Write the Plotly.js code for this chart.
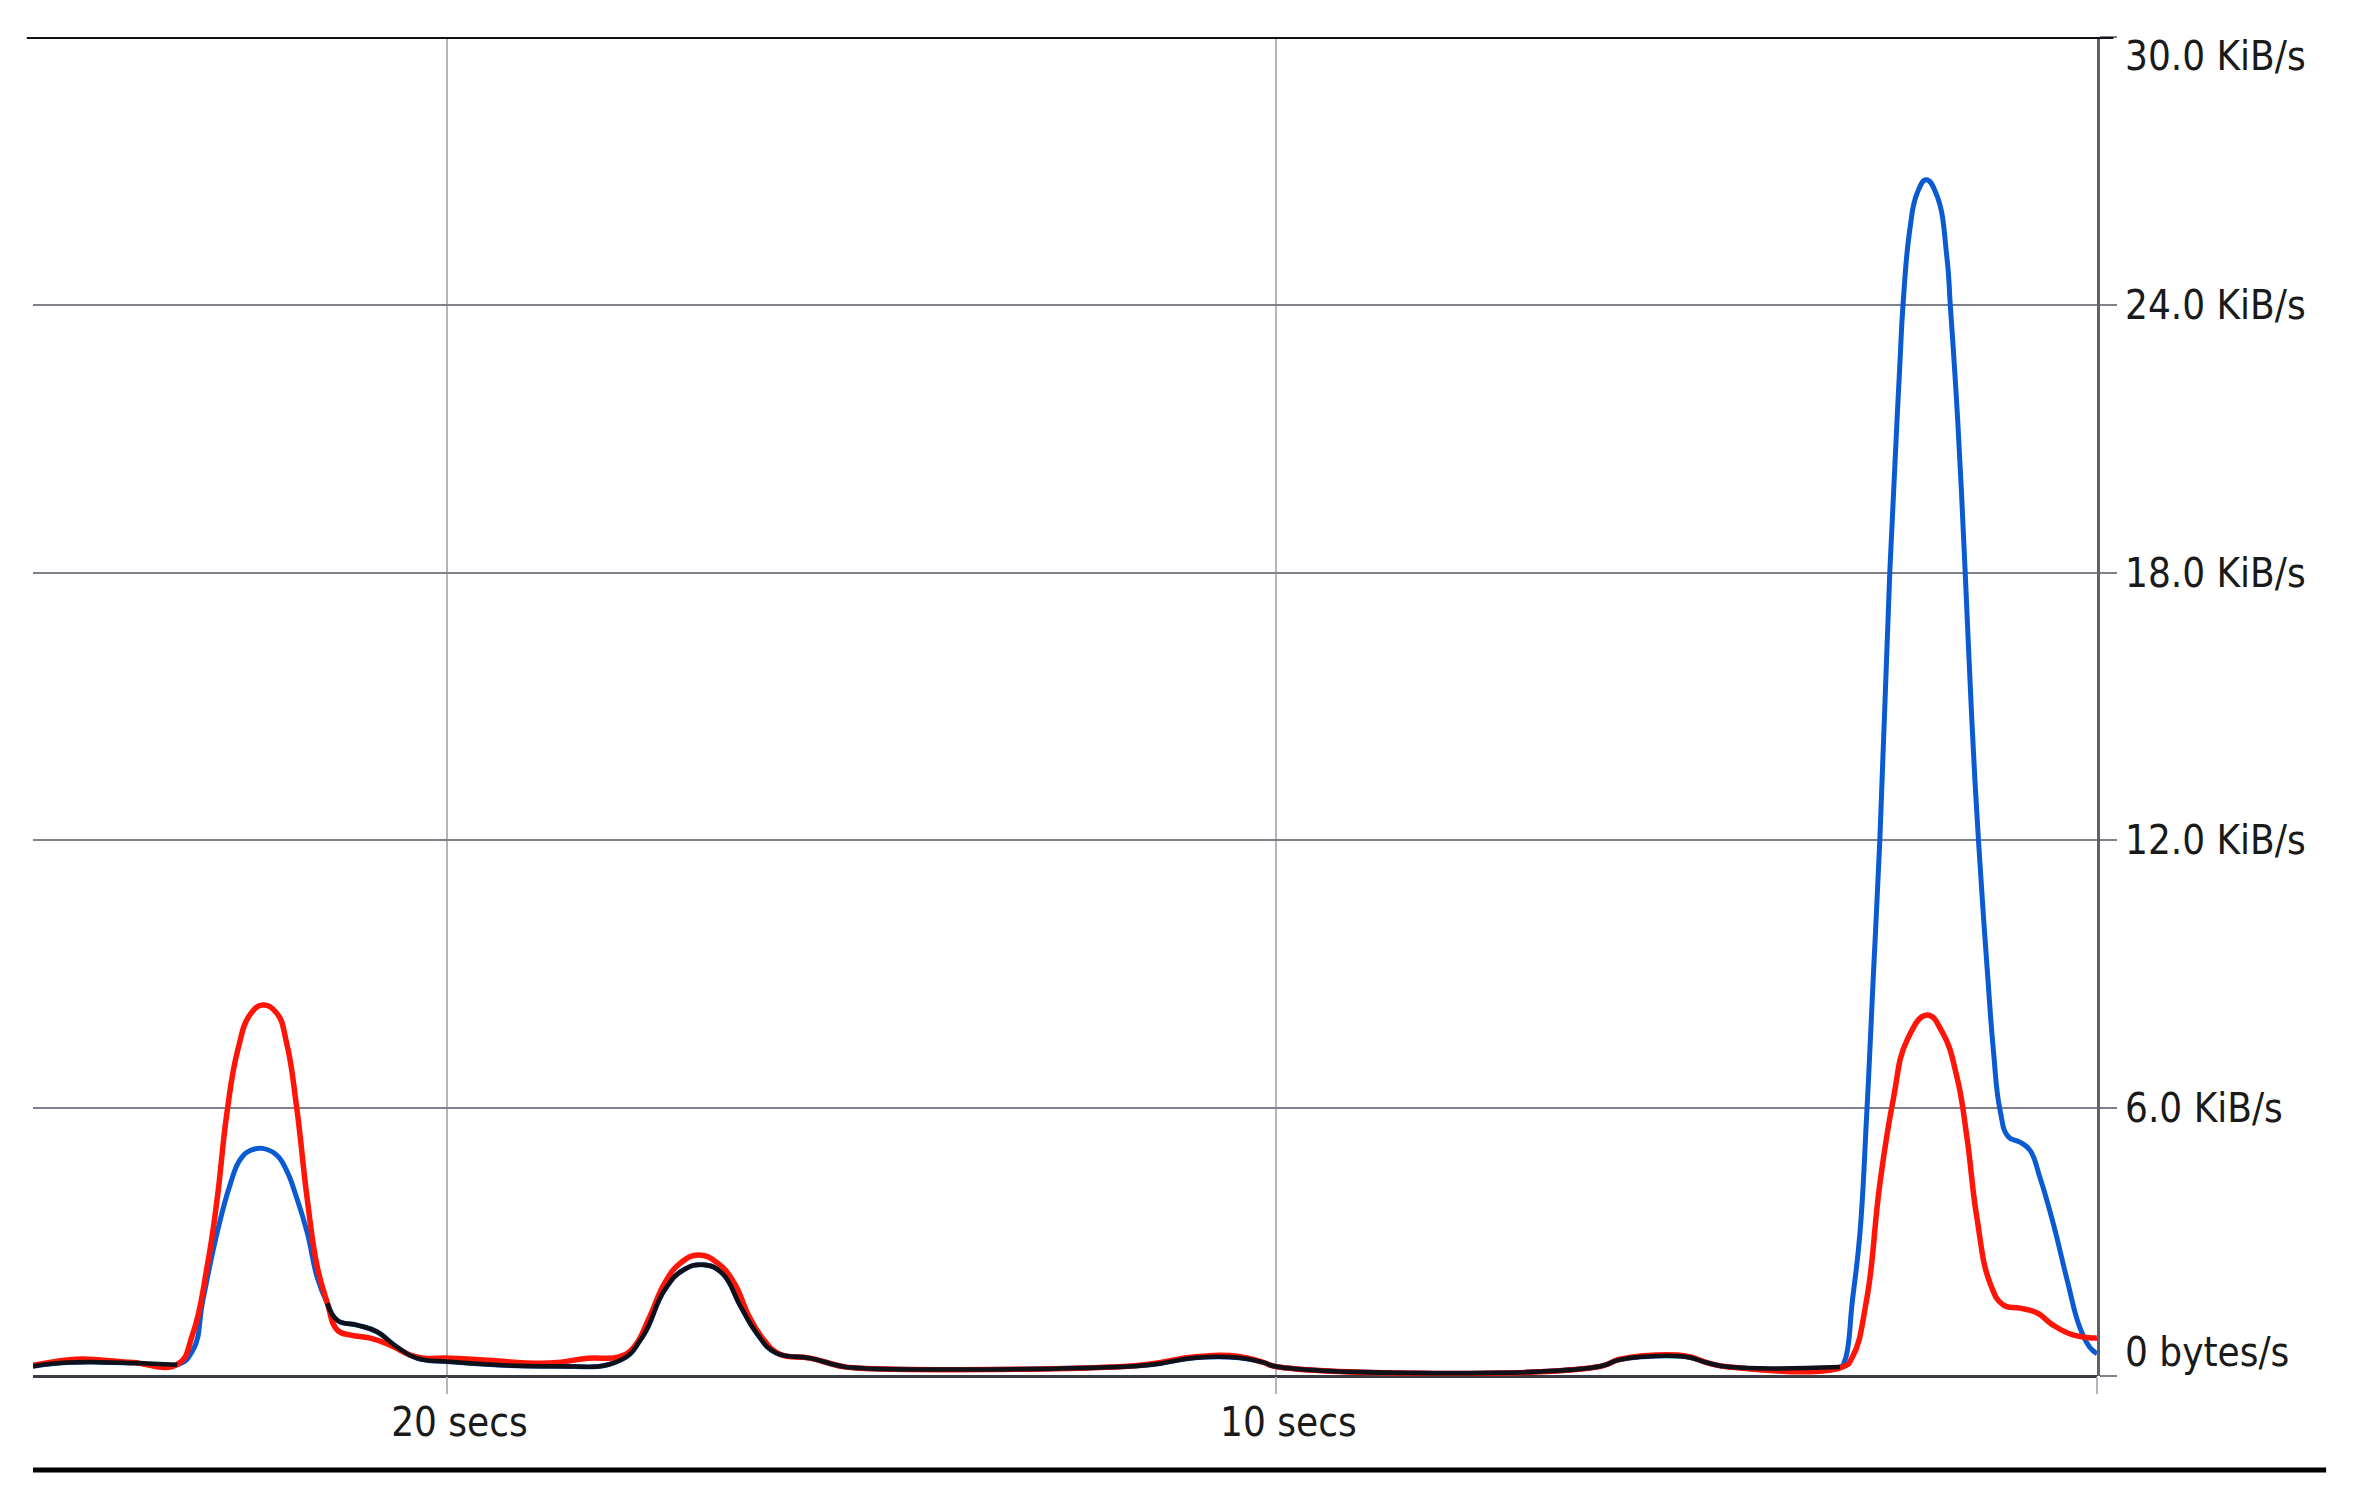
<!DOCTYPE html>
<html>
<head>
<meta charset="utf-8">
<script src="https://cdn.plot.ly/plotly-3.0.1.min.js"></script>
<style>
  html, body { margin: 0; padding: 0; background: #ffffff; }
  #chart { width: 2361px; height: 1509px; }
</style>
</head>
<body>
<div id="chart"></div>
<script>
// Time axis: seconds ago (25 s on the left, now on the right)
const xTickVals = [20, 10, 0.1];
const xTickText = ['20 secs', '10 secs', ''];

// Rate axis (KiB/s)
const yTickVals = [0, 6, 12, 18, 24, 30];
const yTickText = ['', '6.0 KiB/s', '12.0 KiB/s', '18.0 KiB/s', '24.0 KiB/s', ''];
const yTopLabel = '30.0 KiB/s';
const yBottomLabel = '0 bytes/s';

// Blue series
const blueTime = [25.0, 24.59, 24.19, 23.79, 23.26, 23.07, 22.95, 22.78, 22.62, 22.50, 22.38, 22.23, 22.06, 21.94, 21.82, 21.69, 21.57, 21.45, 21.33, 21.09, 20.85, 20.61, 20.37, 19.97, 18.76, 17.93, 17.65, 17.38, 17.15, 16.92, 16.69, 16.46, 16.27, 16.04, 15.63, 15.25, 15.07, 12.30, 11.52, 10.98, 10.45, 10.17, 9.97, 6.14, 5.87, 5.60, 5.06, 4.79, 4.53, 3.20, 3.14, 3.05, 2.96, 2.88, 2.84, 2.80, 2.72, 2.60, 2.48, 2.44, 2.36, 2.27, 2.16, 2.03, 1.91, 1.87, 1.78, 1.69, 1.61, 1.53, 1.42, 1.35, 1.27, 1.17, 1.03, 0.91, 0.79, 0.63, 0.46, 0.31, 0.19, 0.10];
const blueRate = [0.22, 0.30, 0.31, 0.29, 0.25, 0.58, 1.7, 3.2, 4.3, 4.85, 5.05, 5.1, 4.95, 4.6, 4.0, 3.2, 2.2, 1.63, 1.25, 1.14, 0.99, 0.65, 0.40, 0.32, 0.22, 0.34, 0.87, 1.93, 2.38, 2.49, 2.31, 1.55, 0.96, 0.52, 0.40, 0.22, 0.18, 0.18, 0.25, 0.41, 0.41, 0.31, 0.20, 0.20, 0.36, 0.43, 0.43, 0.29, 0.20, 0.20, 0.36, 1.7, 3.2, 5.8, 7.3, 8.9, 12.0, 18.0, 22.6, 24.0, 25.66, 26.5, 26.8, 26.44, 25.05, 24.0, 21.4, 18.0, 14.7, 12.0, 9.0, 7.3, 5.96, 5.36, 5.24, 5.06, 4.46, 3.43, 2.15, 1.1, 0.65, 0.5];

// Red series
const redTime = [25.0, 24.59, 24.39, 24.19, 23.79, 23.26, 23.07, 22.90, 22.78, 22.66, 22.53, 22.38, 22.23, 22.06, 21.94, 21.82, 21.69, 21.57, 21.45, 21.33, 21.18, 20.93, 20.69, 20.45, 20.29, 19.97, 19.57, 18.76, 18.30, 17.93, 17.75, 17.56, 17.38, 17.19, 16.97, 16.74, 16.54, 16.36, 16.18, 15.99, 15.63, 15.25, 15.07, 12.30, 11.52, 10.98, 10.45, 10.17, 9.97, 6.14, 5.87, 5.60, 5.06, 4.79, 4.53, 3.17, 3.05, 2.88, 2.72, 2.56, 2.39, 2.15, 1.96, 1.79, 1.67, 1.55, 1.39, 1.23, 1.03, 0.82, 0.63, 0.39, 0.13, 0.10];
const redRate = [0.24, 0.36, 0.38, 0.36, 0.30, 0.26, 0.96, 2.44, 3.94, 5.9, 7.3, 8.1, 8.31, 8.13, 7.46, 6.03, 3.94, 2.44, 1.64, 1.03, 0.92, 0.85, 0.69, 0.47, 0.40, 0.40, 0.36, 0.29, 0.40, 0.43, 0.65, 1.33, 2.08, 2.53, 2.71, 2.53, 2.08, 1.33, 0.80, 0.49, 0.40, 0.22, 0.18, 0.18, 0.27, 0.43, 0.44, 0.31, 0.20, 0.20, 0.37, 0.45, 0.45, 0.29, 0.20, 0.20, 0.43, 1.7, 4.3, 6.18, 7.53, 8.09, 7.68, 6.7, 5.36, 3.56, 2.08, 1.59, 1.52, 1.41, 1.14, 0.92, 0.85, 0.85];

// Dark (black) series, gap while the large bursts are under way
const blackTime = [25.0, 24.59, 24.19, 23.79, 23.26, 23.2, 21.45, 21.33, 21.09, 20.85, 20.61, 20.37, 19.97, 18.76, 17.93, 17.65, 17.38, 17.15, 16.92, 16.69, 16.46, 16.27, 16.04, 15.63, 15.25, 15.07, 12.30, 11.52, 10.98, 10.45, 10.17, 9.97, 6.14, 5.87, 5.60, 5.06, 4.79, 4.53, 3.20];
const blackRate = [0.22, 0.30, 0.31, 0.29, 0.25, null, 1.63, 1.25, 1.14, 0.99, 0.65, 0.40, 0.32, 0.22, 0.34, 0.87, 1.93, 2.38, 2.49, 2.31, 1.55, 0.96, 0.52, 0.40, 0.22, 0.18, 0.18, 0.25, 0.41, 0.41, 0.31, 0.20, 0.20, 0.36, 0.43, 0.43, 0.29, 0.20, 0.20];

const FONT = '"DejaVu Sans Condensed", "Liberation Sans Narrow", sans-serif';
const FS = 40;

const traces = [
  { x: blueTime, y: blueRate, type: 'scatter', mode: 'lines',
    line: { color: '#0a5ad2', width: 5, shape: 'spline', smoothing: 1.3 }, hoverinfo: 'skip' },
  { x: redTime, y: redRate, type: 'scatter', mode: 'lines',
    line: { color: '#ff1408', width: 5.5, shape: 'spline', smoothing: 1.3 }, hoverinfo: 'skip' },
  { x: blackTime, y: blackRate, type: 'scatter', mode: 'lines', connectgaps: false,
    line: { color: '#101018', width: 4.5, shape: 'spline', smoothing: 1.3 }, hoverinfo: 'skip' }
];

const layout = {
  width: 2361, height: 1509,
  margin: { l: 33, r: 264, t: 37, b: 133, pad: 0 },
  paper_bgcolor: '#ffffff', plot_bgcolor: '#ffffff',
  showlegend: false,
  font: { family: FONT, size: FS, color: '#1a1a1a' },
  xaxis: {
    range: [25, 0.1], autorange: false,
    tickvals: xTickVals, ticktext: xTickText,
    showgrid: true, gridcolor: '#b4b4bc', gridwidth: 2,
    ticks: 'outside', ticklen: 17, tickwidth: 2, tickcolor: '#b4b4bc',
    ticklabelshift: -12, ticklabelstandoff: -6,
    showline: false, zeroline: false,
    tickfont: { family: FONT, size: FS, color: '#1a1a1a' }
  },
  yaxis: {
    side: 'right', range: [0, 30], autorange: false,
    tickvals: yTickVals, ticktext: yTickText,
    showgrid: true, gridcolor: '#80808a', gridwidth: 2,
    ticks: 'outside', ticklen: 17, tickwidth: 2, tickcolor: '#80808a',
    showline: true, linecolor: '#606068', linewidth: 3,
    zeroline: true, zerolinecolor: '#3a3a44', zerolinewidth: 3,
    tickfont: { family: FONT, size: FS, color: '#1a1a1a' }
  },
  shapes: [
    { type: 'line', xref: 'paper', yref: 'y', x0: -0.003, x1: 1.008, y0: 30, y1: 30,
      line: { color: '#141018', width: 4 } },
    { type: 'line', xref: 'paper', yref: 'paper', x0: 0, x1: 1.111, y0: -0.0702, y1: -0.0702,
      line: { color: '#000000', width: 5 } }
  ],
  annotations: [
    { xref: 'paper', yref: 'y', x: 1, y: 30, xanchor: 'left', yanchor: 'middle',
      xshift: 26, yshift: -19, showarrow: false, text: yTopLabel,
      font: { family: FONT, size: FS, color: '#1a1a1a' } },
    { xref: 'paper', yref: 'y', x: 1, y: 0, xanchor: 'left', yanchor: 'middle',
      xshift: 26, yshift: 24, showarrow: false, text: yBottomLabel,
      font: { family: FONT, size: FS, color: '#1a1a1a' } }
  ]
};

Plotly.newPlot('chart', traces, layout, { staticPlot: true, displayModeBar: false });
</script>
</body>
</html>
